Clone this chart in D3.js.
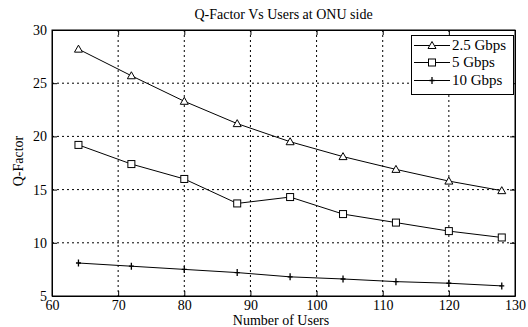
<!DOCTYPE html>
<html><head><meta charset="utf-8">
<script src="https://cdn.jsdelivr.net/npm/d3@7"></script>
<style>body{margin:0;background:#fff}svg{display:block}svg text{font-family:"Liberation Serif","Times New Roman",Times,serif !important;fill:#000}</style>
</head><body><svg id="c" width="528" height="327"></svg>
<script>
const users = [64, 72, 80, 88, 96, 104, 112, 120, 128];
const q25 = [28.2, 25.7, 23.3, 21.2, 19.5, 18.1, 16.9, 15.8, 14.9];
const q5 = [19.2, 17.4, 16.0, 13.7, 14.3, 12.7, 11.9, 11.1, 10.5];
const q10 = [8.1, 7.8, 7.5, 7.2, 6.8, 6.6, 6.35, 6.2, 5.95];
const xTicks = [60, 70, 80, 90, 100, 110, 120, 130];
const yTicks = [5, 10, 15, 20, 25, 30];
const seriesNames = ["2.5 Gbps", "5 Gbps", "10 Gbps"];
const markers = ["triangle", "square", "star"];
const FONT = '"Liberation Serif","Times New Roman",Times,serif';

const svg = d3.select("#c");
const L = 52, R = 515, T = 30, B = 296;
const x = d3.scaleLinear().domain([60, 130]).range([L, R]);
const y = d3.scaleLinear().domain([5, 30]).range([B, T]);

// grid
const g = svg.append("g");
g.selectAll(".gx").data(xTicks.slice(1, -1)).enter().append("line")
  .attr("x1", d => x(d)).attr("x2", d => x(d)).attr("y1", T).attr("y2", B)
  .attr("stroke", "#000").attr("stroke-width", 1).attr("stroke-dasharray", "2,3");
g.selectAll(".gy").data(yTicks.slice(1, -1)).enter().append("line")
  .attr("y1", d => y(d)).attr("y2", d => y(d)).attr("x1", L).attr("x2", R)
  .attr("stroke", "#000").attr("stroke-width", 1).attr("stroke-dasharray", "2,3");

// axes
const xa = svg.append("g").attr("transform", `translate(0,${B})`)
  .call(d3.axisBottom(x).tickValues(xTicks).tickSizeInner(-5).tickSizeOuter(0).tickPadding(4.5));
const xt = svg.append("g").attr("transform", `translate(0,${T})`)
  .call(d3.axisTop(x).tickValues(xTicks).tickSizeInner(-5).tickSizeOuter(0).tickFormat(""));
const ya = svg.append("g").attr("transform", `translate(${L},0)`)
  .call(d3.axisLeft(y).tickValues(yTicks).tickSizeInner(-5).tickSizeOuter(0).tickPadding(5));
const yr = svg.append("g").attr("transform", `translate(${R},0)`)
  .call(d3.axisRight(y).tickValues(yTicks).tickSizeInner(-5).tickSizeOuter(0).tickFormat(""));
[xa, xt, ya, yr].forEach(a => {
  a.attr("font-family", FONT).attr("font-size", 14);
  a.selectAll("path,line").attr("stroke", "#000");
  a.selectAll("text").attr("fill", "#000");
});

// lines
const series = [q25, q5, q10];
const line = d3.line().x((d, i) => x(users[i])).y(d => y(d));
function drawMarker(sel, type, cx, cy) {
  if (type === "triangle") {
    sel.append("path").attr("d", `M${cx},${cy-4}L${cx+4},${cy+3}L${cx-4},${cy+3}Z`)
      .attr("fill", "#fff").attr("stroke", "#000").attr("stroke-width", 1);
  } else if (type === "square") {
    sel.append("rect").attr("x", cx-3.5).attr("y", cy-3.5).attr("width", 7).attr("height", 7)
      .attr("fill", "#fff").attr("stroke", "#000").attr("stroke-width", 1);
  } else {
    sel.append("path").attr("d", `M${cx-2.5},${cy}H${cx+2.5}M${cx},${cy-3.5}V${cy+3.5}`)
      .attr("stroke", "#000").attr("stroke-width", 1.3);
  }
}
series.forEach((s, k) => {
  svg.append("path").datum(s).attr("d", line).attr("fill", "none").attr("stroke", "#000").attr("stroke-width", 1);
  const mg = svg.append("g");
  s.forEach((v, i) => drawMarker(mg, markers[k], x(users[i]), y(v)));
});

// frame
svg.append("rect").attr("x", L).attr("y", T).attr("width", R - L).attr("height", B - T)
  .attr("fill", "none").attr("stroke", "#000").attr("stroke-width", 1);

// legend
const lg = svg.append("g");
lg.append("rect").attr("x", 411.5).attr("y", 35.5).attr("width", 102).attr("height", 59)
  .attr("fill", "#fff").attr("stroke", "#000").attr("stroke-width", 1);
const rowY = [45.5, 62.5, 80.5];
seriesNames.forEach((n, k) => {
  lg.append("line").attr("x1", 414).attr("x2", 450).attr("y1", rowY[k]).attr("y2", rowY[k]).attr("stroke", "#000");
  drawMarker(lg, markers[k], 432, rowY[k]);
  lg.append("text").attr("x", 452).attr("y", rowY[k] + 4.5).attr("font-family", FONT).attr("font-size", 15).text(n);
});

// titles
svg.append("text").attr("x", 283.5).attr("y", 19).attr("text-anchor", "middle").attr("font-family", FONT).attr("font-size", 14)
  .text("Q-Factor Vs Users at ONU side");
svg.append("text").attr("x", 281).attr("y", 324.5).attr("text-anchor", "middle").attr("font-family", FONT).attr("font-size", 14)
  .text("Number of Users");
svg.append("text").attr("transform", `translate(23,161) rotate(-90)`).attr("text-anchor", "middle").attr("font-family", FONT).attr("font-size", 14)
  .text("Q-Factor");
</script></body></html>
